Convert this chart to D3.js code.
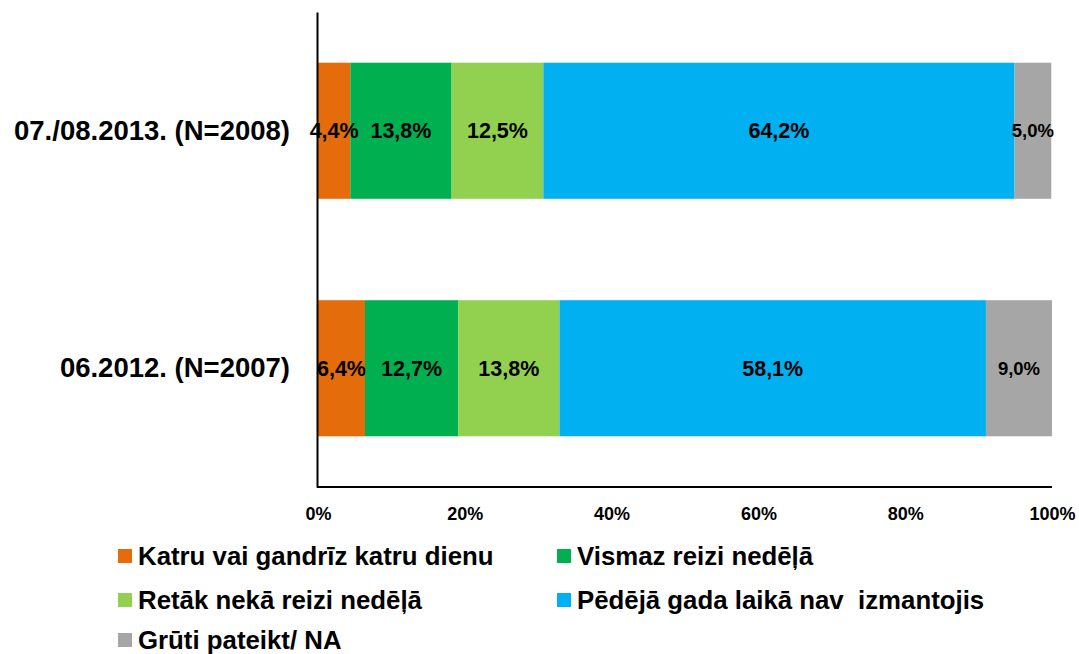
<!DOCTYPE html>
<html>
<head>
<meta charset="utf-8">
<script src="https://cdn.jsdelivr.net/npm/d3@7"></script>
<style>
  html, body { margin: 0; padding: 0; background: #fff; }
  svg { display: block; font-family: "Liberation Sans", Arial, sans-serif; font-weight: bold; }
</style>
</head>
<body>
<svg id="chart" width="1079" height="654"></svg>
<script>
// Survey waves (top to bottom)
const categories = ["07./08.2013. (N=2008)", "06.2012. (N=2007)"];

// Answer options, in stacking order
const seriesNames = [
  "Katru vai gandrīz katru dienu",
  "Vismaz reizi nedēļā",
  "Retāk nekā reizi nedēļā",
  "Pēdējā gada laikā nav  izmantojis",
  "Grūti pateikt/ NA"
];

// Shares (%) per wave for each answer option
const katruDienu   = [4.4, 6.4];
const reiziNedela  = [13.8, 12.7];
const retak        = [12.5, 13.8];
const navIzmantojis = [64.2, 58.1];
const grutiPateikt = [5.0, 9.0];

const tickValues = [0, 20, 40, 60, 80, 100];

const colors = ["#E46C0A", "#00B050", "#92D050", "#00B0F0", "#A6A6A6"];
const labelSizes = [21.5, 21.5, 21.5, 21.5, 18.5];

const seriesValues = [katruDienu, reiziNedela, retak, navIzmantojis, grutiPateikt];

const rows = categories.map((c, i) => {
  const r = { cat: c };
  seriesNames.forEach((s, j) => r[s] = seriesValues[j][i]);
  return r;
});

const stacked = d3.stack().keys(seriesNames)(rows);

const svg = d3.select("#chart");

const x = d3.scaleLinear().domain([0, 100]).range([318, 1052]);
const y = d3.scaleBand().domain(categories).range([12, 487])
  .paddingInner(0.427).paddingOuter(0.2135);

const fmt = v => v.toFixed(1).replace(".", ",") + "%";

// Bars
const layers = svg.append("g").selectAll("g")
  .data(stacked).join("g")
  .attr("fill", (d, i) => colors[i]);

layers.selectAll("rect")
  .data(d => d)
  .join("rect")
  .attr("x", d => x(d[0]))
  .attr("y", d => y(d.data.cat))
  .attr("width", d => x(d[1]) - x(d[0]))
  .attr("height", y.bandwidth());

// Value labels
stacked.forEach((layer, i) => {
  svg.append("g").selectAll("text")
    .data(layer).join("text")
    .attr("x", d => (x(d[0]) + x(d[1])) / 2)
    .attr("y", d => y(d.data.cat) + y.bandwidth() / 2)
    .attr("dy", "0.35em")
    .attr("text-anchor", "middle")
    .attr("font-size", labelSizes[i])
    .attr("fill", "#000")
    .text(d => fmt(d[1] - d[0]));
});

// Category axis
const yAxis = svg.append("g")
  .attr("transform", "translate(317,0)")
  .call(d3.axisLeft(y).tickSize(0).tickSizeOuter(0).tickPadding(27));
yAxis.select(".domain").attr("stroke", "#000").attr("stroke-width", 2);
yAxis.selectAll("text")
  .attr("font-size", 27.5)
  .attr("font-family", "Liberation Sans, Arial, sans-serif")
  .attr("font-weight", "bold")
  .attr("fill", "#000");

// Value axis
const xAxis = svg.append("g")
  .attr("transform", "translate(0,487)")
  .call(d3.axisBottom(x).tickValues(tickValues).tickSize(0).tickSizeOuter(0)
    .tickPadding(20).tickFormat(d => d + "%"));
xAxis.select(".domain").attr("stroke", "#000").attr("stroke-width", 2)
  .attr("d", `M${x(0) - 1},0H${x(100)}`);
xAxis.selectAll("text")
  .attr("font-size", 18)
  .attr("font-family", "Liberation Sans, Arial, sans-serif")
  .attr("font-weight", "bold")
  .attr("fill", "#000");

// Legend
const legendPos = [
  [118, 556], [557, 556],
  [118, 600], [557, 600],
  [118, 640]
];
const legend = svg.append("g").selectAll("g")
  .data(seriesNames).join("g")
  .attr("transform", (d, i) => `translate(${legendPos[i][0]},${legendPos[i][1]})`);
legend.append("rect")
  .attr("x", 0).attr("y", -7).attr("width", 14).attr("height", 14)
  .attr("fill", (d, i) => colors[i]);
legend.append("text")
  .attr("x", 20).attr("y", 0).attr("dy", "0.36em")
  .attr("font-size", 25.8)
  .attr("fill", "#000")
  .style("white-space", "pre")
  .text(d => d);
</script>
</body>
</html>
